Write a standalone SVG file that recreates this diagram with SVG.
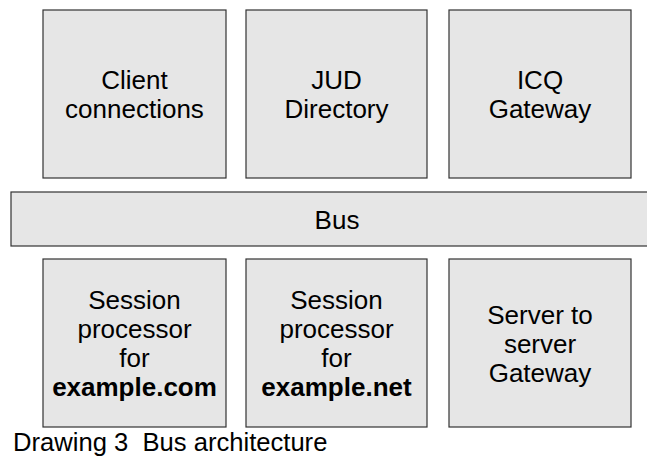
<svg xmlns="http://www.w3.org/2000/svg" width="647" height="457" viewBox="0 0 647 457">
<style>
.box{fill:#e6e6e6;stroke:#333;stroke-width:1.2}
.t{font-family:"Liberation Sans",Arial,sans-serif;font-size:26px;fill:#000;text-anchor:middle}
.b{font-weight:bold}
.cap{font-family:"Liberation Sans",Arial,sans-serif;font-size:25.6px;fill:#000;white-space:pre}
</style>
<rect width="647" height="457" fill="#fff"/>
<g id="client">
<rect class="box" x="43" y="10" width="183" height="168"/>
<text class="t" x="134.5" y="88.5">Client</text>
<text class="t" x="134.5" y="117.5">connections</text>
</g>
<g id="jud">
<rect class="box" x="246" y="10" width="181" height="168"/>
<text class="t" x="336.5" y="88.5">JUD</text>
<text class="t" x="336.5" y="117.5">Directory</text>
</g>
<g id="icq">
<rect class="box" x="449" y="10" width="182" height="168"/>
<text class="t" x="540" y="88.5">ICQ</text>
<text class="t" x="540" y="117.5">Gateway</text>
</g>
<g id="bus">
<rect class="box" x="11" y="192" width="650" height="54"/>
<text class="t" x="337" y="228.5">Bus</text>
</g>
<g id="sp-com">
<rect class="box" x="43" y="259" width="183" height="168"/>
<text class="t" x="134.5" y="309">Session</text>
<text class="t" x="134.5" y="338">processor</text>
<text class="t" x="134.5" y="367">for</text>
<text class="t b" x="134.5" y="396">example.com</text>
</g>
<g id="sp-net">
<rect class="box" x="246" y="259" width="181" height="168"/>
<text class="t" x="336.5" y="309">Session</text>
<text class="t" x="336.5" y="338">processor</text>
<text class="t" x="336.5" y="367">for</text>
<text class="t b" x="336.5" y="396">example.net</text>
</g>
<g id="s2s">
<rect class="box" x="449" y="259" width="182" height="168"/>
<text class="t" x="540" y="323.5">Server to</text>
<text class="t" x="540" y="352.5">server</text>
<text class="t" x="540" y="381.5">Gateway</text>
</g>
<g id="connectors"></g>
<text class="cap" x="13" y="451" xml:space="preserve">Drawing 3  Bus architecture</text>
</svg>
